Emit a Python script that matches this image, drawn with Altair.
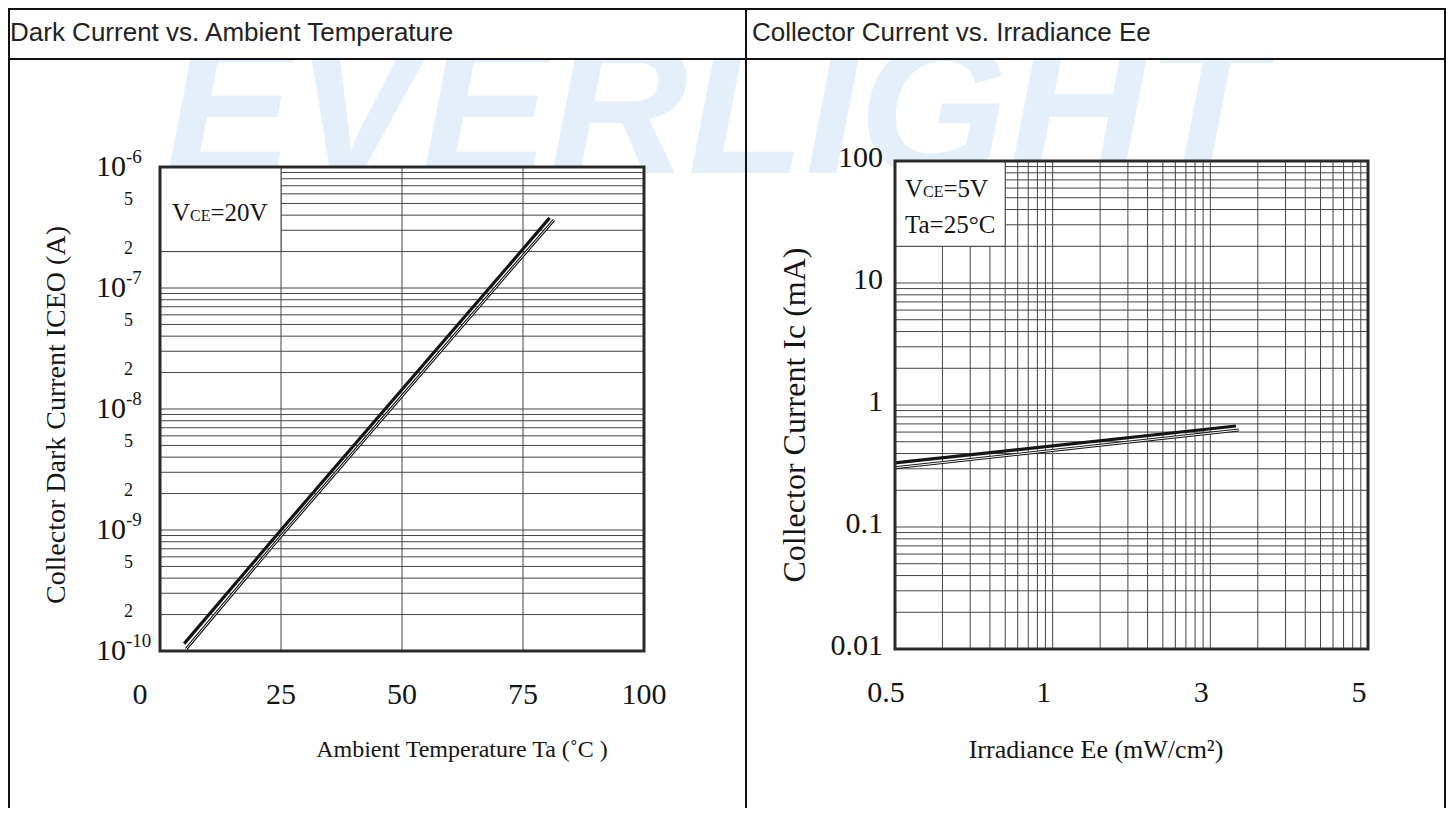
import altair as alt
import pandas as pd
import numpy as np

# ---------------- data ----------------
# Left panel: dark current vs ambient temperature (two traced curves)
TEMP_THICK = [5.0, 25.0, 50.0, 75.0, 80.5]
ICEO_THICK = [1.15e-10, 1.0e-9, 1.45e-8, 2.1e-7, 3.8e-7]
TEMP_THIN = [5.4, 25.0, 50.0, 75.0, 81.4]
ICEO_THIN = [1.04e-10, 8.9e-10, 1.28e-8, 1.85e-7, 3.65e-7]

# Right panel: collector current vs irradiance (two traced curves)
EE_THICK = [0.5, 3.26]
IC_THICK = [0.335, 0.673]
EE_THIN = [0.5, 3.29]
IC_THIN = [0.306, 0.624]

# tick labels
TEMP_TICKS = [0, 25, 50, 75, 100]
ICEO_EXPONENTS = [-10, -9, -8, -7, -6]
ICEO_MINOR = [2, 5]
EE_TICKS = [0.5, 1, 3, 5]          # printed at equal log-paper cycles
IC_TICKS = [0.01, 0.1, 1, 10, 100]

TITLE_L = "Dark Current vs. Ambient Temperature"
TITLE_R = "Collector Current vs. Irradiance Ee"
XTITLE_L = "Ambient Temperature Ta (\u02daC )"
YTITLE_L = "Collector Dark Current ICEO (A)"
XTITLE_R = "Irradiance Ee (mW/cm\u00b2)"
YTITLE_R = "Collector Current Ic (mA)"

SERIF = "Liberation Serif"
SANS = "Liberation Sans"
GRID = "#444444"
INK = "#151515"

# ---------------- helpers ----------------
CYCLES = np.arange(len(EE_TICKS))


def ee_to_paper(ee):
    # position on the 3-cycle log paper whose cycle boundaries carry EE_TICKS
    return 10 ** np.interp(np.log10(ee), np.log10(EE_TICKS), CYCLES)


PAPER_TICKS = [float(10 ** c) for c in CYCLES]

XL = alt.Scale(domain=[0, 100], range=[0, 484], nice=False, zero=False)
YL = alt.Scale(type="log", domain=[1e-10, 1e-6], range=[490, 6], nice=False)
XR = alt.Scale(type="log", domain=[PAPER_TICKS[0], PAPER_TICKS[-1]], range=[735, 1208], nice=False)
YR = alt.Scale(type="log", domain=[IC_TICKS[0], IC_TICKS[-1]], range=[488, 0], nice=False)


def X(f, s):
    return alt.X(f, type="quantitative", scale=s, axis=None)


def Y(f, s):
    return alt.Y(f, type="quantitative", scale=s, axis=None)


def labels(df, size, align="center", dx=0, dy=0):
    return alt.Chart(df).mark_text(align=align, baseline="middle", fontSize=size, font=SERIF,
                                   color=INK, dx=dx, dy=dy)


# ---------------- left panel ----------------
fL = pd.DataFrame({"x0": [0], "x1": [100], "y0": [1e-10], "y1": [1e-6]})
bgL = alt.Chart(fL).mark_rect(fill="white").encode(
    x=X("x0", XL), x2="x1:Q", y=Y("y0", YL), y2="y1:Q")

hL = pd.DataFrame({"y": [k * 10.0 ** e for e in ICEO_EXPONENTS[:-1] for k in range(1, 10)] + [1e-6]})
hL["x0"], hL["x1"] = 0, 100
hgridL = alt.Chart(hL).mark_rule(color=GRID, strokeWidth=1).encode(
    x=X("x0", XL), x2="x1:Q", y=Y("y", YL))

vL = pd.DataFrame({"x": TEMP_TICKS[1:-1]})
vL["y0"], vL["y1"] = 1e-10, 1e-6
vgridL = alt.Chart(vL).mark_rule(color=GRID, strokeWidth=1).encode(
    x=X("x", XL), y=Y("y0", YL), y2="y1:Q")

boxL = alt.Chart(pd.DataFrame({"x0": [0], "x1": [25], "y0": [2e-7], "y1": [1e-6]})).mark_rect(
    fill="white", stroke=GRID, strokeWidth=1).encode(
    x=X("x0", XL), x2="x1:Q", y=Y("y0", YL), y2="y1:Q")

thinL_df = pd.DataFrame({"t": TEMP_THIN, "i": ICEO_THIN})
thickL_df = pd.DataFrame({"t": TEMP_THICK, "i": ICEO_THICK})


def lineL(df, color, w):
    return alt.Chart(df).mark_line(color=color, strokeWidth=w).encode(x=X("t", XL), y=Y("i", YL))


frameL = alt.Chart(fL).mark_rect(fillOpacity=0, stroke="#2a2a2a", strokeWidth=3).encode(
    x=X("x0", XL), x2="x1:Q", y=Y("y0", YL), y2="y1:Q")

decL = pd.DataFrame({"e": ICEO_EXPONENTS})
decL["y"] = 10.0 ** decL["e"]
decL["lab"] = decL["e"].astype(str)
decL["ten"] = "10"
tenL = labels(decL, 30, align="right").encode(y=Y("y", YL), x=alt.value(-34), text="ten:N")
expL = labels(decL, 19, align="left", dy=-10).encode(y=Y("y", YL), x=alt.value(-34), text="lab:N")

minL = pd.DataFrame([{"y": k * 10.0 ** e, "lab": str(k)} for e in ICEO_EXPONENTS[:-1] for k in ICEO_MINOR])
minorL = labels(minL, 18, align="right", dy=-3).encode(y=Y("y", YL), x=alt.value(-27), text="lab:N")

xtL = pd.DataFrame({"x": TEMP_TICKS, "lab": [str(t) for t in TEMP_TICKS]})
xlabL = labels(xtL[xtL.x > 0], 30).encode(x=X("x", XL), y=alt.value(534), text="lab:N")
xlab0 = labels(xtL[xtL.x == 0], 30, dx=-20).encode(x=X("x", XL), y=alt.value(534), text="lab:N")

left = alt.layer(bgL, hgridL, vgridL, boxL,
                 lineL(thinL_df, INK, 3), lineL(thinL_df, "white", 1),
                 lineL(thickL_df, INK, 3.2), frameL, tenL, expL, minorL, xlabL, xlab0)

# ---------------- right panel ----------------
fR = pd.DataFrame({"x0": [PAPER_TICKS[0]], "x1": [PAPER_TICKS[-1]], "y0": [IC_TICKS[0]], "y1": [IC_TICKS[-1]]})
bgR = alt.Chart(fR).mark_rect(fill="white").encode(
    x=X("x0", XR), x2="x1:Q", y=Y("y0", YR), y2="y1:Q")

hR = pd.DataFrame({"y": [k * 10.0 ** e for e in range(-2, 2) for k in range(1, 10)] + [100.0]})
hR["x0"], hR["x1"] = PAPER_TICKS[0], PAPER_TICKS[-1]
hgridR = alt.Chart(hR).mark_rule(color=GRID, strokeWidth=1).encode(
    x=X("x0", XR), x2="x1:Q", y=Y("y", YR))

vR = pd.DataFrame({"x": [k * 10.0 ** c for c in CYCLES[:-1] for k in range(2, 10)] +
                   [10.0 ** c for c in CYCLES[1:-1]]})
vR["y0"], vR["y1"] = IC_TICKS[0], IC_TICKS[-1]
vgridR = alt.Chart(vR).mark_rule(color=GRID, strokeWidth=1).encode(
    x=X("x", XR), y=Y("y0", YR), y2="y1:Q")

boxR = alt.Chart(pd.DataFrame({"x0": [1.0], "x1": [5.0], "y0": [20.0], "y1": [100.0]})).mark_rect(
    fill="white", stroke=GRID, strokeWidth=1).encode(
    x=X("x0", XR), x2="x1:Q", y=Y("y0", YR), y2="y1:Q")

thinR_df = pd.DataFrame({"p": ee_to_paper(np.array(EE_THIN)), "i": IC_THIN})
thickR_df = pd.DataFrame({"p": ee_to_paper(np.array(EE_THICK)), "i": IC_THICK})


def lineR(df, color, w):
    return alt.Chart(df).mark_line(color=color, strokeWidth=w).encode(x=X("p", XR), y=Y("i", YR))


frameR = alt.Chart(fR).mark_rect(fillOpacity=0, stroke="#2a2a2a", strokeWidth=3).encode(
    x=X("x0", XR), x2="x1:Q", y=Y("y0", YR), y2="y1:Q")

ytR = pd.DataFrame({"y": IC_TICKS, "lab": [f"{v:g}" for v in IC_TICKS]})
ylabR = labels(ytR, 30, align="right", dy=-3).encode(y=Y("y", YR), x=alt.value(723), text="lab:N")

xtR = pd.DataFrame({"x": PAPER_TICKS, "lab": [f"{v:g}" for v in EE_TICKS]})
xlabR = labels(xtR, 30, dx=-9).encode(x=X("x", XR), y=alt.value(532), text="lab:N")

right = alt.layer(bgR, hgridR, vgridR, boxR,
                  lineR(thinR_df, INK, 3), lineR(thinR_df, "white", 1),
                  lineR(thickR_df, INK, 3.2), frameR, ylabR, xlabR)

# ---------------- decoration / text ----------------
one = pd.DataFrame({"a": [0]})


def txt(s, x, y, size, font=SERIF, align="left", baseline="alphabetic", angle=0, color=INK,
        style="normal", weight="normal"):
    return alt.Chart(one).mark_text(text=s, align=align, baseline=baseline, fontSize=size, font=font,
                                    angle=angle, color=color, fontStyle=style, fontWeight=weight).encode(
        x=alt.value(x), y=alt.value(y))


def rule(x, y, x2, y2, w=2, color="#111111"):
    return alt.Chart(one).mark_rule(color=color, strokeWidth=w).encode(
        x=alt.value(x), y=alt.value(y), x2=alt.value(x2), y2=alt.value(y2))


watermark = txt("EVERLIGHT", 5, 12, 192, font=SANS, color="#e5eff9", style="italic", weight="bold")
header_bg = alt.Chart(one).mark_rect(fill="white").encode(
    x=alt.value(-152), x2=alt.value(1286), y=alt.value(-153), y2=alt.value(-102))

texts = [
    txt("V", 12, 60, 25), txt("CE", 30, 60, 16), txt("=20V", 50.5, 60, 25),
    txt("V", 745, 36, 25), txt("CE", 763, 36, 16), txt("=5V", 783.5, 36, 25),
    txt("Ta=25\u00b0C", 745, 72, 25),
    txt(YTITLE_L, -103, 254, 28, align="center", baseline="middle", angle=270),
    txt(YTITLE_R, 635, 254, 32, align="center", baseline="middle", angle=270),
    txt(XTITLE_L, 302, 589, 24, align="center", baseline="middle"),
    txt(XTITLE_R, 936, 589, 26, align="center", baseline="middle"),
    txt(TITLE_L, -150, -128, 26, font=SANS, baseline="middle", color="#222222"),
    txt(TITLE_R, 592, -128, 26, font=SANS, baseline="middle", color="#222222"),
]

table = [
    rule(-152, -152, 1286, -152),
    rule(-152, -102, 1286, -102),
    rule(-151, -153, -151, 647),
    rule(586, -153, 586, 647),
    rule(1285, -153, 1285, 647),
]

chart = alt.layer(watermark, header_bg, left, right, *texts, *table).resolve_scale(
    x="independent", y="independent"
).properties(
    width=1208, height=490,
    autosize=alt.AutoSizeParams(type="none"),
    padding={"left": 152, "top": 153, "right": 78, "bottom": 157},
).configure_view(stroke=None)

chart.save("out.html", embed_options={"renderer": "svg", "actions": False})
